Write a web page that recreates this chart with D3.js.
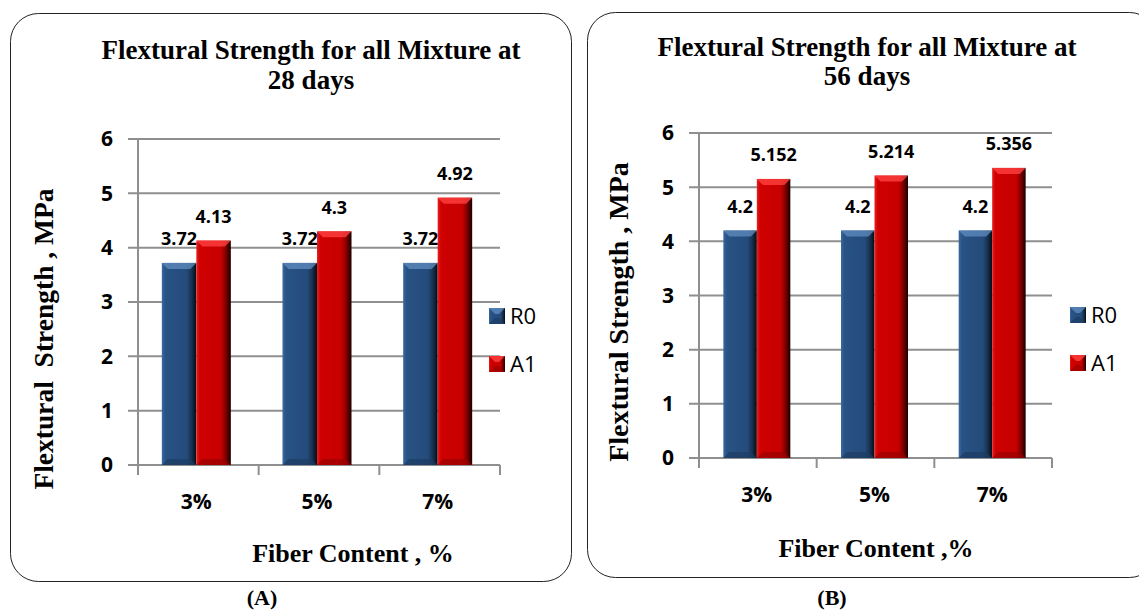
<!DOCTYPE html>
<html>
<head>
<meta charset="utf-8">
<script src="https://cdn.jsdelivr.net/npm/d3@7"></script>
<style>
  body { margin: 0; background: #fff; }
  svg { display: block; }
</style>
</head>
<body>
<svg id="chart" width="1139" height="613"></svg>
<script>
// data
var categories = ["3%", "5%", "7%"];
var seriesNames = ["R0", "A1"];
var r0Day28 = [3.72, 3.72, 3.72];
var a1Day28 = [4.13, 4.3, 4.92];
var r0Day56 = [4.2, 4.2, 4.2];
var a1Day56 = [5.152, 5.214, 5.356];
var yTicks = [0, 1, 2, 3, 4, 5, 6];

var svg = d3.select("#chart");
var defs = svg.append("defs");

var colors = {
  R0: { stops: ["#3a6aa2", "#285384", "#244b7b", "#17324f", "#050b14"], top: "#5c88bb", bottom: "#1d3c62" },
  A1: { stops: ["#e52020", "#cf0000", "#c60000", "#7a0000", "#1c0000"], top: "#ff4040", bottom: "#9a0000" }
};

seriesNames.forEach(function(s) {
  var g = defs.append("linearGradient").attr("id", "grad" + s)
    .attr("x1", "0%").attr("x2", "100%").attr("y1", "0%").attr("y2", "0%");
  var offs = [0, 0.1, 0.72, 0.86, 1];
  offs.forEach(function(o, i) {
    g.append("stop").attr("offset", o * 100 + "%").attr("stop-color", colors[s].stops[i]);
  });
});

function bevelBar(g, x, y, w, h, s) {
  var b = Math.min(6, h / 2);
  g.append("rect").attr("x", x).attr("y", y).attr("width", w).attr("height", h)
    .attr("fill", "url(#grad" + s + ")");
  // top bevel
  g.append("polygon")
    .attr("points", [[x, y], [x + w, y], [x + w - b, y + b], [x + b, y + b]].join(" "))
    .attr("fill", colors[s].top).attr("opacity", 0.8);
  // bottom bevel
  g.append("polygon")
    .attr("points", [[x, y + h], [x + w, y + h], [x + w - b, y + h - b], [x + b, y + h - b]].join(" "))
    .attr("fill", colors[s].bottom).attr("opacity", 0.7);
}

function drawPanel(p) {
  var g = svg.append("g");

  g.append("rect").attr("x", p.box[0]).attr("y", p.box[1])
    .attr("width", p.box[2]).attr("height", p.box[3])
    .attr("rx", 28).attr("ry", 28)
    .attr("fill", "none").attr("stroke", "#222").attr("stroke-width", 1);

  var y = d3.scaleLinear().domain([0, 6]).range([p.y0, p.y6]);
  var x0 = d3.scaleBand().domain(categories).range([p.xl, p.xr]);
  var x1 = d3.scaleBand().domain(seriesNames).range([0, p.groupW]);
  var off = (x0.bandwidth() - p.groupW) / 2 + p.shift;

  // gridlines
  g.selectAll(".grid").data(yTicks).enter().append("line")
    .attr("x1", p.xl - 10).attr("x2", p.xr)
    .attr("y1", function(d) { return y(d); }).attr("y2", function(d) { return y(d); })
    .attr("stroke", "#8f8f8f").attr("stroke-width", 2);

  // y axis line
  g.append("line").attr("x1", p.xl).attr("x2", p.xl)
    .attr("y1", p.y6).attr("y2", p.y0 + 10)
    .attr("stroke", "#8f8f8f").attr("stroke-width", 2);

  // category ticks
  var bounds = categories.map(function(c) { return x0(c) + x0.bandwidth(); });
  g.selectAll(".ctick").data(bounds).enter().append("line")
    .attr("x1", function(d) { return d; }).attr("x2", function(d) { return d; })
    .attr("y1", p.y0).attr("y2", p.y0 + 10)
    .attr("stroke", "#8f8f8f").attr("stroke-width", 2);

  // y tick labels
  g.selectAll(".ylab").data(yTicks).enter().append("text")
    .attr("x", p.xl - 25).attr("y", function(d) { return y(d); })
    .attr("dy", "0.35em").attr("text-anchor", "end")
    .style("font", "bold 21px 'Open Sans', sans-serif").attr("fill", "#000")
    .text(function(d) { return d; });

  // x labels
  g.selectAll(".xlab").data(categories).enter().append("text")
    .attr("x", function(d) { return x0(d) + x0.bandwidth() / 2 + p.shift; })
    .attr("y", p.y0 + 37).attr("dy", "0.35em").attr("text-anchor", "middle")
    .style("font", "bold 21px 'Open Sans', sans-serif").attr("fill", "#000")
    .text(function(d) { return d; });

  var series = [p.r0, p.a1];
  seriesNames.forEach(function(s, si) {
    categories.forEach(function(c, ci) {
      var v = series[si][ci];
      var bx = x0(c) + off + x1(s);
      bevelBar(g, bx, y(v), x1.bandwidth(), y(0) - y(v), s);
      g.append("text")
        .attr("x", bx + x1.bandwidth() / 2).attr("y", y(v) - 24)
        .attr("dy", "0.35em").attr("text-anchor", "middle")
        .style("font", "bold 18px 'Open Sans', sans-serif").attr("fill", "#000")
        .text(v);
    });
  });

  // legend
  seriesNames.forEach(function(s, i) {
    var ly = p.legY + i * 48;
    bevelBar(g, p.legX, ly - 8, 16, 16, s);
    g.append("text").attr("x", p.legX + 21).attr("y", ly).attr("dy", "0.35em")
      .style("font", "22px 'Open Sans', sans-serif").attr("fill", "#000").text(s);
  });

  // titles
  var serif = "'Liberation Serif', 'Times New Roman', serif";
  p.title.forEach(function(t, i) {
    g.append("text").attr("x", p.titleX).attr("y", p.titleBase[i])
      .attr("text-anchor", "middle")
      .style("font", "bold 27px " + serif).text(t);
  });
  g.append("text")
    .attr("transform", "translate(" + p.yTitleX + "," + p.yTitleY + ") rotate(-90)")
    .attr("dy", "0.35em").attr("text-anchor", "middle")
    .style("font", "bold " + p.yTitleSize + "px " + serif)
    .style("white-space", "pre")
    .text(p.yTitle);
  g.append("text").attr("x", p.xTitleX).attr("y", p.xTitleY)
    .attr("dy", "0.35em").attr("text-anchor", "middle")
    .style("font", "bold 26px " + serif).text(p.xTitle);
  g.append("text").attr("x", p.capX).attr("y", 605)
    .attr("text-anchor", "middle")
    .style("font", "bold 22px " + serif).text(p.cap);
}

drawPanel({
  box: [10.5, 13.5, 561, 568],
  xl: 138, xr: 500, y0: 465, y6: 139, groupW: 69, shift: -2,
  r0: r0Day28, a1: a1Day28,
  legX: 489, legY: 316,
  title: ["Flextural Strength for all Mixture at", "28 days"], titleX: 311, titleBase: [59, 89],
  yTitle: "Flextural  Strength , MPa", yTitleX: 43, yTitleY: 339, yTitleSize: 27.5,
  xTitle: "Fiber Content , %", xTitleX: 353, xTitleY: 553,
  cap: "(A)", capX: 262
});

drawPanel({
  box: [587.5, 12.5, 570, 565],
  xl: 699, xr: 1052, y0: 458, y6: 133, groupW: 67, shift: -1,
  r0: r0Day56, a1: a1Day56,
  legX: 1070, legY: 315,
  title: ["Flextural Strength for all Mixture at", "56 days"], titleX: 867, titleBase: [56, 85],
  yTitle: "Flextural Strength , MPa", yTitleX: 618, yTitleY: 312, yTitleSize: 28,
  xTitle: "Fiber Content ,%", xTitleX: 876, xTitleY: 548,
  cap: "(B)", capX: 832
});
</script>
</body>
</html>
